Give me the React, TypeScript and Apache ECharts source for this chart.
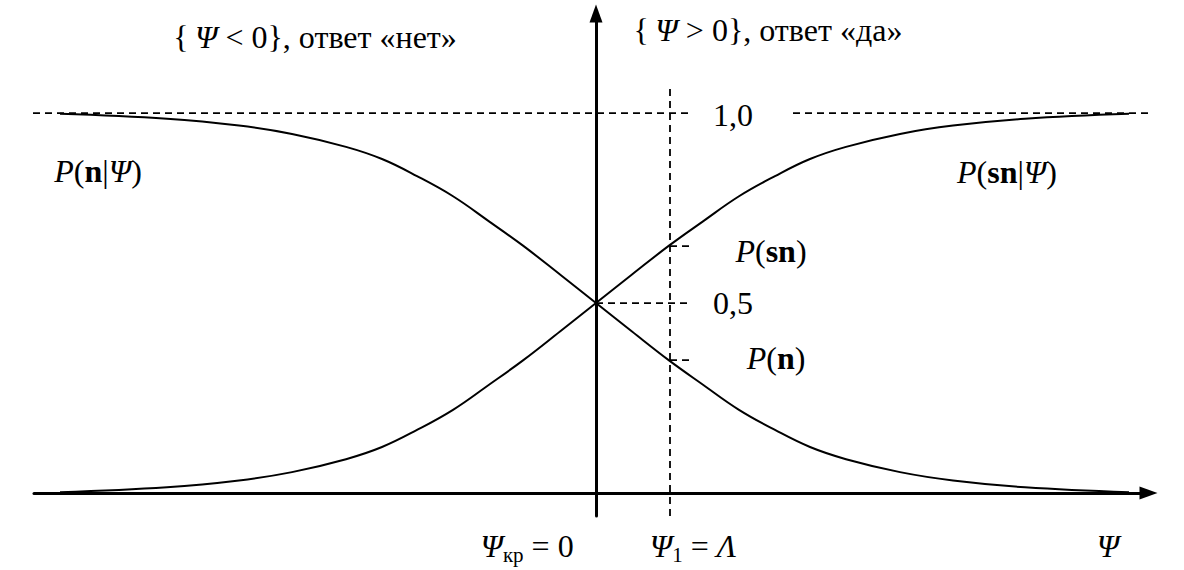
import React, { useEffect, useRef } from "react";
import * as echarts from "echarts";

// Ψ positions (units of 100 px from the vertical axis) at which the curves were read
const psi = [-5.36, -4.29, -3.57, -3.04, -2.5, -2.14, -1.79, -1.43, -1.07, -0.73, -0.36, 0, 0.36, 0.73, 1.07, 1.43, 1.79, 2.14, 2.5, 3.04, 3.57, 4.29, 5.33];

// P(sn|Ψ) — rising curve
const valSn = [0.002, 0.015, 0.033, 0.055, 0.089, 0.121, 0.166, 0.219, 0.285, 0.349, 0.425, 0.5, 0.575, 0.651, 0.715, 0.781, 0.834, 0.879, 0.911, 0.945, 0.967, 0.985, 0.998];

// P(n|Ψ) — falling curve
const valN = [0.998, 0.985, 0.967, 0.945, 0.911, 0.879, 0.834, 0.781, 0.715, 0.651, 0.575, 0.5, 0.425, 0.349, 0.285, 0.219, 0.166, 0.121, 0.089, 0.055, 0.033, 0.015, 0.002];

// reference levels
const PSI_1 = 0.74;
const P_SN = 0.65;
const P_N = 0.35;
const HALF = 0.5;
const ONE = 1.0;

const X_MIN = -5.62;
const X_MAX = 5.525;
const Y_MIN = -0.0605;
const Y_MAX = 1.262;

const FONT = '"Liberation Serif", "Times New Roman", serif';
const FS = 32;

const tok = (extra: any = {}) => ({ fontSize: FS, fontFamily: FONT, fill: "#000", ...extra });
const rich = {
  r: tok(),
  i: tok({ fontStyle: "italic" }),
  b: tok({ fontWeight: "bold" }),
  sub: tok({ fontSize: 21, verticalAlign: "bottom", lineHeight: 22 }),
  m: tok({ lineHeight: 38, verticalAlign: "middle" }),
  im: tok({ fontStyle: "italic", lineHeight: 38, verticalAlign: "middle" }),
};

const label = (x: number, y: number, text: string) => ({
  type: "text",
  x,
  y,
  silent: true,
  style: {
    text,
    fontSize: FS,
    fontFamily: FONT,
    fill: "#000",
    rich,
    align: "center",
    verticalAlign: "middle",
    textAlign: "center",
    textVerticalAlign: "middle",
  },
});

const dashed = (data: number[][]) => ({
  type: "line",
  data,
  symbol: "none",
  silent: true,
  clip: false,
  z: 3,
  lineStyle: { color: "#000", width: 1.8, type: [7, 5] },
});

export default function App() {
  const ref = useRef<HTMLDivElement>(null);
  useEffect(() => {
    document.body.style.margin = "0";
    const chart = echarts.init(ref.current!, null, { renderer: "svg" });
    const snData = psi.map((p, i) => [p, valSn[i]]);
    const nData = psi.map((p, i) => [p, valN[i]]);
    chart.setOption({
      animation: false,
      backgroundColor: "#fff",
      grid: { left: 34, right: 35.5, top: 13.5, bottom: 54 },
      xAxis: {
        type: "value",
        min: X_MIN,
        max: X_MAX,
        axisLine: {
          onZero: true,
          symbol: ["none", "triangle"],
          symbolSize: [13, 18],
          lineStyle: { color: "#000", width: 3 },
        },
        axisTick: { show: false },
        axisLabel: { show: false },
        splitLine: { show: false },
      },
      yAxis: {
        type: "value",
        min: Y_MIN,
        max: Y_MAX,
        axisLine: {
          show: true,
          onZero: true,
          symbol: ["none", "triangle"],
          symbolSize: [13, 18],
          lineStyle: { color: "#000", width: 3 },
        },
        axisTick: { show: false },
        axisLabel: { show: false },
        splitLine: { show: false },
      },
      series: [
        {
          type: "line",
          name: "P(sn|Ψ)",
          data: snData,
          smooth: 0.4,
          symbol: "none",
          silent: true,
          lineStyle: { color: "#000", width: 2 },
          z: 4,
        },
        {
          type: "line",
          name: "P(n|Ψ)",
          data: nData,
          smooth: 0.4,
          symbol: "none",
          silent: true,
          lineStyle: { color: "#000", width: 2 },
          z: 4,
        },
        dashed([[-5.87, ONE], [0.95, ONE]]),
        dashed([[1.97, ONE], [5.78, ONE]]),
        dashed([[PSI_1, Y_MIN], [PSI_1, 1.074]]),
        dashed([[0, HALF], [0.91, HALF]]),
        dashed([[PSI_1, P_SN], [0.97, P_SN]]),
        dashed([[PSI_1, P_N], [0.97, P_N]]),
      ],
      graphic: [
        label(315, 37, "{\u2009{i|Ψ} < 0}, ответ «нет»"),
        label(768, 30, "{\u2009{i|Ψ} > 0}, ответ «да»"),
        label(98, 171, "{i|P}{r|(}{b|n}{r||}{i|Ψ}{r|)}"),
        label(1007, 172, "{i|P}{r|(}{b|sn}{r||}{i|Ψ}{r|)}"),
        label(733, 115, "1,0"),
        label(771, 251, "{i|P}{r|(}{b|sn}{r|)}"),
        label(733, 303, "0,5"),
        label(776, 358, "{i|P}{r|(}{b|n}{r|)}"),
        label(527, 546, "{im|Ψ}{sub|кр}{m| = 0}"),
        label(693, 546, "{im|Ψ}{sub|1}{m| = }{im|Λ}"),
        label(1108, 546, "{im|Ψ}"),
      ],
    });
    return () => chart.dispose();
  }, []);
  return <div ref={ref} style={{ width: 1184, height: 570 }} />;
}
